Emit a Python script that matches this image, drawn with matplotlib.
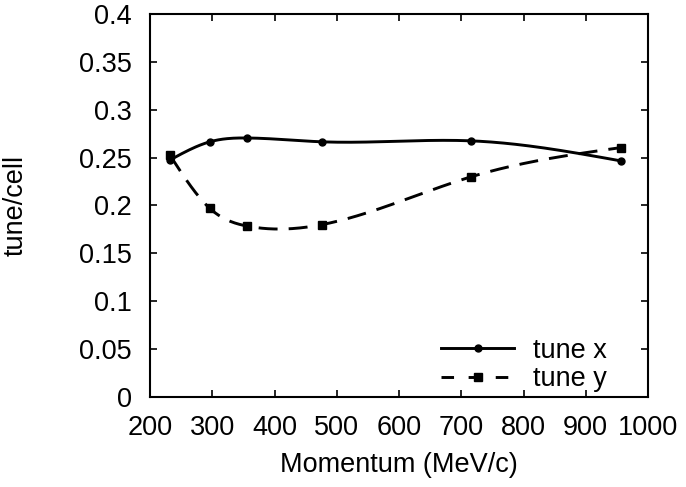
import matplotlib.pyplot as plt
import numpy as np

plt.rcParams['font.family'] = ['Liberation Sans', 'DejaVu Sans']

# data
momentum = [232, 296, 356, 476, 716, 957]
tune_x = [0.2475, 0.2665, 0.2705, 0.2665, 0.2675, 0.2465]
tune_y = [0.2525, 0.197, 0.1785, 0.180, 0.230, 0.2605]


def natural_spline(x, y, xs):
    # natural cubic spline (like gnuplot "smooth csplines")
    x = np.asarray(x, float)
    y = np.asarray(y, float)
    n = len(x)
    h = np.diff(x)
    A = np.zeros((n, n))
    b = np.zeros(n)
    A[0, 0] = A[-1, -1] = 1
    for i in range(1, n - 1):
        A[i, i - 1] = h[i - 1]
        A[i, i] = 2 * (h[i - 1] + h[i])
        A[i, i + 1] = h[i]
        b[i] = 3 * ((y[i + 1] - y[i]) / h[i] - (y[i] - y[i - 1]) / h[i - 1])
    c = np.linalg.solve(A, b)
    out = np.empty_like(xs)
    for k, xv in enumerate(xs):
        i = min(max(np.searchsorted(x, xv) - 1, 0), n - 2)
        d = xv - x[i]
        bi = (y[i + 1] - y[i]) / h[i] - h[i] * (2 * c[i] + c[i + 1]) / 3
        di = (c[i + 1] - c[i]) / (3 * h[i])
        out[k] = y[i] + bi * d + c[i] * d ** 2 + di * d ** 3
    return out


fs = 19.5
dash = (6.5, 3.8)

fig = plt.figure(figsize=(6.86, 4.87), dpi=100)
ax = fig.add_axes([0.2187, 0.1848, 0.7259, 0.7865])

xs = np.linspace(momentum[0], momentum[-1], 300)
ax.plot(xs, natural_spline(momentum, tune_x, xs), color='black', lw=2.1)
ax.plot(xs, natural_spline(momentum, tune_y, xs), color='black', lw=2.1,
        dashes=dash)
ax.plot(momentum, tune_x, 'o', color='black', ms=5)
ax.plot(momentum, tune_y, 's', color='black', ms=6)

# legend handles
ax.plot([], [], '-o', color='black', lw=2.1, ms=5, label='tune x')
ax.plot([], [], '--s', color='black', lw=2.1, ms=6, dashes=(4.3, 5), label='tune y')
ax.legend(loc='lower right', bbox_to_anchor=(0.918, 0.013), frameon=False,
          fontsize=fs, handlelength=2.7, handletextpad=0.7,
          borderpad=0, borderaxespad=0, labelspacing=0.08)

ax.set_xlim(200, 1000)
ax.set_ylim(0, 0.4)
ax.set_xticks(np.arange(200, 1001, 100))
ax.set_yticks(np.arange(0, 0.401, 0.05))
ax.set_yticklabels(['0', '0.05', '0.1', '0.15', '0.2', '0.25', '0.3', '0.35', '0.4'])
ax.tick_params(direction='in', top=True, right=True, labelsize=fs, length=5,
               width=1.2, pad=13)
for s in ax.spines.values():
    s.set_linewidth(1.5)

ax.set_xlabel('Momentum (MeV/c)', fontsize=fs, labelpad=8)
ax.set_ylabel('tune/cell', fontsize=fs, labelpad=36)

fig.savefig('out.png', dpi=100)
